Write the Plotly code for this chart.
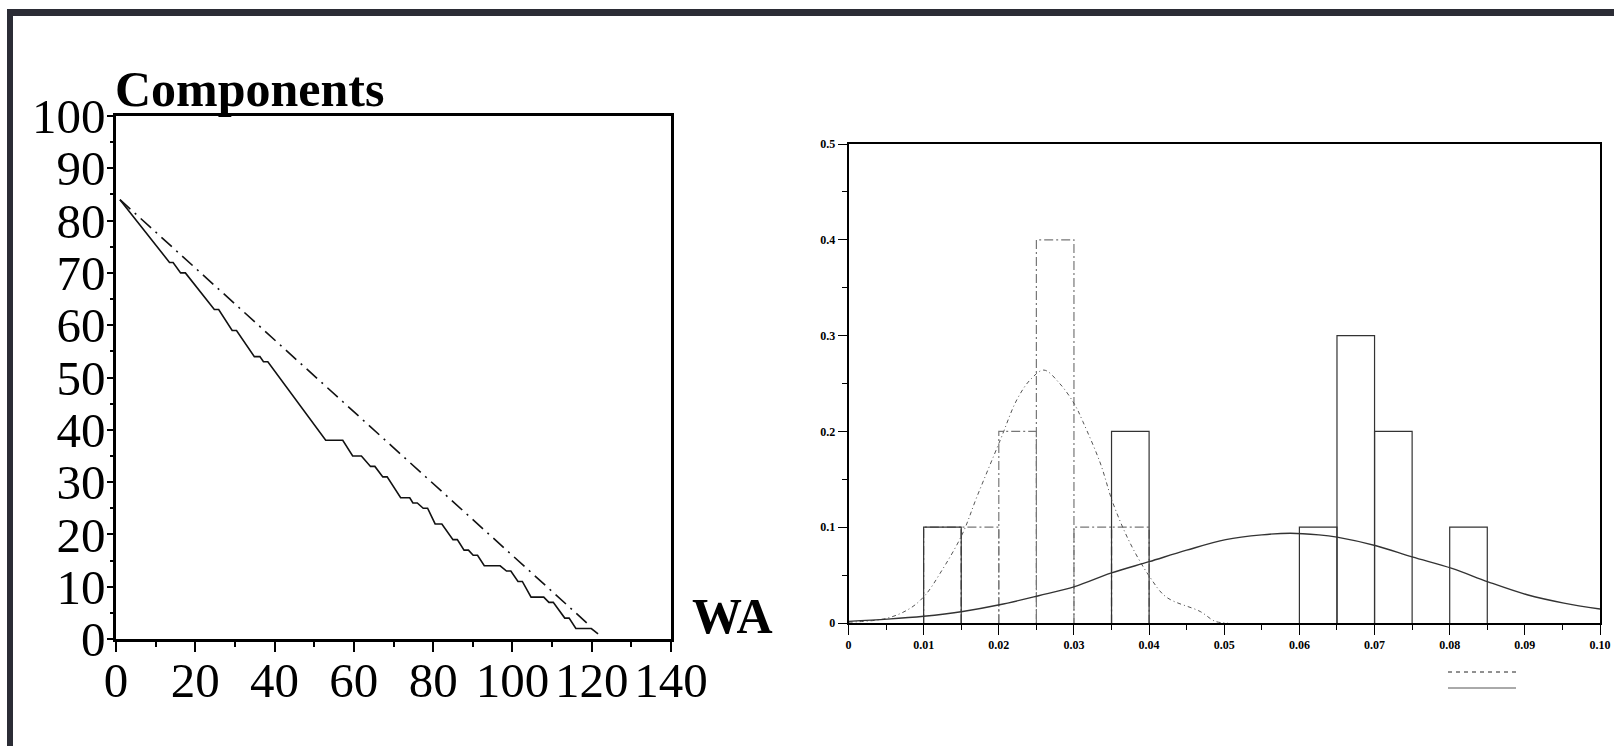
import plotly.graph_objects as go

W, H = 1614, 746

# ---------------- Left panel data ----------------
wa_steps = [1, 13.5, 14.4, 16.3, 17.5, 24.8, 25.9, 29.3, 30.4, 34.9, 36.3, 37.2, 38.3,
            52.9, 57.2, 59.7, 61.9, 64.2, 65.3, 67.3, 68.4, 71.8, 74.1, 74.9, 76.0,
            77.5, 78.6, 80.5, 82.2, 85.0, 86.1, 87.8, 88.9, 90.1, 91.2, 92.9, 96.9,
            98.5, 99.6, 101.4, 102.5, 104.7, 107.9, 109.2, 110.3, 113.2, 114.3,
            116.0, 119.9, 121.6]
components_steps = [84, 72, 72, 70, 70, 63, 63, 59, 59, 54, 54, 53, 53,
                    38, 38, 35, 35, 33, 33, 31, 31, 27, 27, 26, 26,
                    25, 25, 22, 22, 19, 19, 17, 17, 16, 16, 14, 14,
                    13, 13, 11, 11, 8, 8, 7, 7, 4, 4,
                    2, 2, 1]
wa_ideal = [1, 119.6]
components_ideal = [84, 2.5]

left_xticks = [0, 20, 40, 60, 80, 100, 120, 140]
left_yticks = [0, 10, 20, 30, 40, 50, 60, 70, 80, 90, 100]

# ---------------- Right panel data ----------------
bin_width = 0.005
hist_a_left = [0.010, 0.035, 0.060, 0.065, 0.070, 0.080]
hist_a_freq = [0.1, 0.2, 0.1, 0.3, 0.2, 0.1]
hist_b_left = [0.010, 0.015, 0.020, 0.025, 0.030, 0.035]
hist_b_freq = [0.1, 0.1, 0.2, 0.4, 0.1, 0.1]

curve_a_x = [0.0, 0.0052, 0.010, 0.0152, 0.0201, 0.0253, 0.0301, 0.0349, 0.040, 0.045,
             0.0502, 0.055, 0.0588, 0.0626, 0.065, 0.0702, 0.075, 0.0803, 0.0851,
             0.0903, 0.0952, 0.100]
curve_a_y = [0.0017, 0.004, 0.007, 0.012, 0.019, 0.0285, 0.038, 0.052, 0.064, 0.076,
             0.087, 0.092, 0.0937, 0.092, 0.0896, 0.0806, 0.069, 0.057, 0.043,
             0.0295, 0.0208, 0.0146]
curve_b_x = [0.0, 0.00508, 0.0082, 0.0102, 0.0122, 0.0151, 0.0171, 0.0202, 0.0224, 0.0242,
             0.0260, 0.0281, 0.0301, 0.0312, 0.0335, 0.0352, 0.0375, 0.0401, 0.0423,
             0.0468, 0.0488, 0.0505]
curve_b_y = [0.0008, 0.0049, 0.0153, 0.029, 0.052, 0.092, 0.132, 0.191, 0.233, 0.254,
             0.264, 0.250, 0.228, 0.210, 0.167, 0.125, 0.083, 0.048, 0.027,
             0.012, 0.0017, 0.0]

right_xticks = [0, 0.01, 0.02, 0.03, 0.04, 0.05, 0.06, 0.07, 0.08, 0.09, 0.10]
right_xticklabels = ["0", "0.01", "0.02", "0.03", "0.04", "0.05", "0.06", "0.07", "0.08", "0.09", "0.10"]
right_yticks = [0, 0.1, 0.2, 0.3, 0.4, 0.5]
right_yticklabels = ["0", "0.1", "0.2", "0.3", "0.4", "0.5"]


def outline(lefts, freqs, width):
    xs, ys = [], []
    for l, f in zip(lefts, freqs):
        xs += [l, l, l + width, l + width, None]
        ys += [0, f, f, 0, None]
    return xs, ys


fig = go.Figure()

# Left panel
fig.add_trace(go.Scatter(x=wa_ideal, y=components_ideal, mode="lines",
                         line=dict(color="#111111", width=1.6, dash="14px,6px,2px,6px"),
                         xaxis="x", yaxis="y", showlegend=False))
fig.add_trace(go.Scatter(x=wa_steps, y=components_steps, mode="lines",
                         line=dict(color="#111111", width=1.6),
                         xaxis="x", yaxis="y", showlegend=False))

# Right panel histograms
bx, by = outline(hist_b_left, hist_b_freq, bin_width)
fig.add_trace(go.Scatter(x=bx, y=by, mode="lines",
                         line=dict(color="#777777", width=1.2, dash="9px,3px,2px,3px"),
                         xaxis="x2", yaxis="y2", showlegend=False))
ax_, ay_ = outline(hist_a_left, hist_a_freq, bin_width)
fig.add_trace(go.Scatter(x=ax_, y=ay_, mode="lines",
                         line=dict(color="#333333", width=1.2),
                         xaxis="x2", yaxis="y2", showlegend=False))
fig.add_trace(go.Scatter(x=curve_b_x, y=curve_b_y, mode="lines", line_shape="spline",
                         line=dict(color="#555555", width=1, dash="4px,3px,1px,3px"),
                         xaxis="x2", yaxis="y2", showlegend=False))
fig.add_trace(go.Scatter(x=curve_a_x, y=curve_a_y, mode="lines", line_shape="spline",
                         line=dict(color="#333333", width=1.4),
                         xaxis="x2", yaxis="y2", showlegend=False))

serif = "Liberation Serif, Times New Roman, serif"

fig.update_layout(
    template="none",
    width=W, height=H,
    margin=dict(l=0, r=0, t=0, b=0, pad=0),
    paper_bgcolor="white", plot_bgcolor="white",
    xaxis=dict(domain=[116 / W, 671 / W], range=[0, 140], tickvals=left_xticks, automargin=False,
               showgrid=False, zeroline=False, showline=True, linecolor="black", linewidth=2.5,
               mirror=True, ticks="outside", ticklen=10, tickwidth=2, tickcolor="black",
               ticklabelstandoff=-14,
               minor=dict(dtick=10, ticks="outside", ticklen=5, tickwidth=2, tickcolor="black",
                          showgrid=False),
               tickfont=dict(family=serif, size=49, color="black"), anchor="y"),
    yaxis=dict(domain=[(H - 639) / H, (H - 116) / H], range=[0, 100], tickvals=left_yticks,
               automargin=False, ticklabelstandoff=-8,
               showgrid=False, zeroline=False, showline=True, linecolor="black", linewidth=2.5,
               mirror=True, ticks="outside", ticklen=6, tickwidth=2, tickcolor="black",
               minor=dict(dtick=5, ticks="outside", ticklen=3, tickwidth=2, tickcolor="black",
                          showgrid=False),
               tickfont=dict(family=serif, size=49, color="black"), anchor="x"),
    xaxis2=dict(domain=[848.5 / W, 1600 / W], range=[0, 0.10], tickvals=right_xticks,
                ticktext=right_xticklabels, automargin=False,
                showgrid=False, zeroline=False, showline=True, linecolor="black", linewidth=1.5,
                mirror=True, ticks="outside", ticklen=10, tickwidth=1.2, tickcolor="black",
                minor=dict(dtick=0.005, ticks="outside", ticklen=5, tickwidth=1.2, tickcolor="black",
                           showgrid=False),
                tickfont=dict(family=serif, size=12, color="black", weight="bold"), anchor="y2"),
    yaxis2=dict(domain=[(H - 623) / H, (H - 144) / H], range=[0, 0.5], tickvals=right_yticks,
                ticktext=right_yticklabels, automargin=False,
                showgrid=False, zeroline=False, showline=True, linecolor="black", linewidth=1.5,
                mirror=True, ticks="outside", ticklen=9, tickwidth=1.2, tickcolor="black",
                minor=dict(dtick=0.05, ticks="outside", ticklen=5, tickwidth=1.2, tickcolor="black",
                           showgrid=False),
                tickfont=dict(family=serif, size=12, color="black", weight="bold"), anchor="x2"),
    annotations=[
        dict(text="<b>Components</b>", xref="paper", yref="paper", x=113 / W, y=(H - 89) / H,
             xanchor="left", yanchor="middle", showarrow=False,
             font=dict(family=serif, size=50, color="black")),
        dict(text="<b>WA</b>", xref="paper", yref="paper", x=690 / W, y=(H - 616) / H,
             xanchor="left", yanchor="middle", showarrow=False,
             font=dict(family=serif, size=50, color="black")),
    ],
    shapes=[
        # dark frame (top and left bands)
        dict(type="rect", xref="paper", yref="paper", x0=7 / W, x1=1, y0=(H - 16) / H, y1=(H - 9) / H,
             fillcolor="#2b2c35", line=dict(width=0), layer="above"),
        dict(type="rect", xref="paper", yref="paper", x0=7 / W, x1=13 / W, y0=0, y1=(H - 9) / H,
             fillcolor="#2b2c35", line=dict(width=0), layer="above"),
        # legend samples (no text)
        dict(type="line", xref="paper", yref="paper", x0=1448 / W, x1=1516 / W,
             y0=(H - 672) / H, y1=(H - 672) / H, line=dict(color="#222222", width=1, dash="4px,4px")),
        dict(type="line", xref="paper", yref="paper", x0=1448 / W, x1=1516 / W,
             y0=(H - 688) / H, y1=(H - 688) / H, line=dict(color="#555555", width=1)),
    ],
)

fig.write_html("out.html")
